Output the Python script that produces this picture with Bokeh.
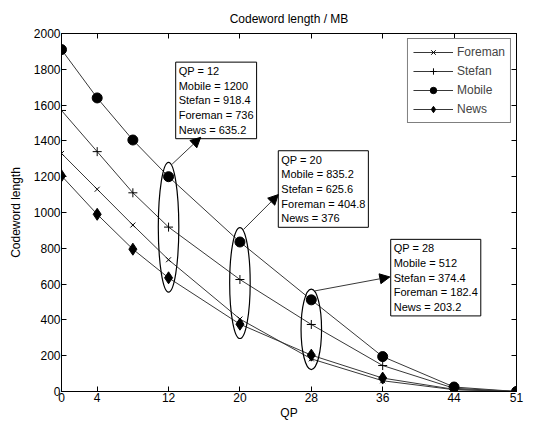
from bokeh.plotting import figure
from bokeh.models import (LinearAxis, FixedTicker, Label, Arrow, NormalHead,
                          Legend, LegendItem, Range1d)
from bokeh.embed import file_html
from bokeh.resources import INLINE

# ---- data ----
qp = [0, 4, 8, 12, 20, 28, 36, 44, 51]
foreman = [1330, 1130, 930, 736, 404.8, 182.4, 60, 10, 0]
stefan = [1570, 1340, 1110, 918.4, 625.6, 374.4, 145, 18, 0]
mobile = [1910, 1640, 1405, 1200, 835.2, 512, 195, 25, 0]
news = [1205, 990, 795, 635.2, 376, 203.2, 75, 12, 0]

x_ticks = [0, 4, 12, 20, 28, 36, 44, 51]
y_ticks = [0, 200, 400, 600, 800, 1000, 1200, 1400, 1600, 1800, 2000]
annot_qp = [12, 20, 28]

FONT = "Liberation Sans"

p = figure(width=535, height=422, output_backend="svg", toolbar_location=None,
           x_range=Range1d(0, 51), y_range=Range1d(0, 2000),
           min_border_left=61, min_border_right=19, min_border_bottom=31,
           min_border_top=33, x_axis_location=None, y_axis_location=None)
p.title.text = "Codeword length / MB"
p.title.align = "center"
p.title.text_font = FONT
p.title.text_font_size = "12px"
p.title.text_font_style = "normal"
p.title.text_color = "black"
p.title.standoff = 15
p.grid.visible = False
p.outline_line_color = "black"
p.background_fill_color = "white"


def make_axis(ticks, label="", show_labels=True, label_standoff=1):
    ax = LinearAxis(ticker=FixedTicker(ticks=ticks), axis_label=label)
    ax.major_tick_in = 5
    ax.major_tick_out = 0
    ax.minor_tick_line_color = None
    ax.axis_line_color = "black"
    ax.major_tick_line_color = "black"
    ax.major_label_text_font = FONT
    ax.major_label_text_font_size = "12px"
    ax.major_label_text_color = "black"
    ax.major_label_standoff = 1
    ax.axis_label_text_font = FONT
    ax.axis_label_text_font_size = "12px"
    ax.axis_label_text_font_style = "normal"
    ax.axis_label_text_color = "black"
    ax.axis_label_standoff = label_standoff
    if not show_labels:
        ax.major_label_overrides = {t: "" for t in ticks}
        ax.major_label_standoff = 0
    return ax


p.add_layout(make_axis(x_ticks, "QP"), "below")
p.add_layout(make_axis(y_ticks, "Codeword length", label_standoff=8), "left")
p.add_layout(make_axis(x_ticks, "", False), "above")
p.add_layout(make_axis(y_ticks, "", False), "right")

LINE = "#383838"
series = [
    ("Foreman", foreman, "x", 7, None),
    ("Stefan", stefan, "cross", 9, None),
    ("Mobile", mobile, "circle", 10, "black"),
    ("News", news, "diamond", 12, "black"),
]
items = []
for name, vals, marker, size, fill in series:
    l = p.line(qp, vals, line_color=LINE, line_width=1)
    m = p.scatter(qp, vals, marker=marker, size=size, line_color="black",
                  fill_color=fill, line_width=1)
    items.append(LegendItem(label=name, renderers=[l, m]))

legend = Legend(items=items, location="top_right", border_line_color="black",
                border_line_width=1, label_text_font=FONT,
                label_text_font_size="12px", glyph_width=40, glyph_height=16,
                spacing=3, padding=5, margin=5, label_standoff=4)
p.add_layout(legend)

# ---- annotations: ellipses, arrows, value boxes ----
idx = [qp.index(q) for q in annot_qp]
box_pos = [(12.8, 1840), (24.3, 1345), (36.9, 850)]   # top-left of boxes
arrow_end = [(15.6, 1420), (24.3, 1100), (36.8, 640)]
pad = [80, 80, 60]
for k, i in enumerate(idx):
    vals = [mobile[i], stefan[i], foreman[i], news[i]]
    top, bot = max(vals) + pad[k], min(vals) - pad[k]
    p.ellipse(x=[qp[i]], y=[(top + bot) / 2], width=[2.3], height=[top - bot],
              fill_color=None, line_color="black", line_width=1.2)
    txt = (f"QP = {qp[i]}\nMobile = {mobile[i]:g}\nStefan = {stefan[i]:g}\n"
           f"Foreman = {foreman[i]:g}\nNews = {news[i]:g}")
    bx, by = box_pos[k]
    p.add_layout(Label(x=bx, y=by, text=txt, text_font=FONT,
                       text_font_size="11px", text_align="left",
                       text_baseline="top", text_line_height=1.22,
                       border_line_color="black", text_color="black",
                       border_line_width=1, background_fill_color="white",
                       padding=3))
    ex, ey = arrow_end[k]
    p.add_layout(Arrow(x_start=qp[i] + 0.4, y_start=top - 10, x_end=ex, y_end=ey,
                       line_color=LINE, line_width=1,
                       end=NormalHead(size=10, fill_color="black",
                                      line_color="black")))

open("out.html", "w").write(file_html(p, INLINE))
